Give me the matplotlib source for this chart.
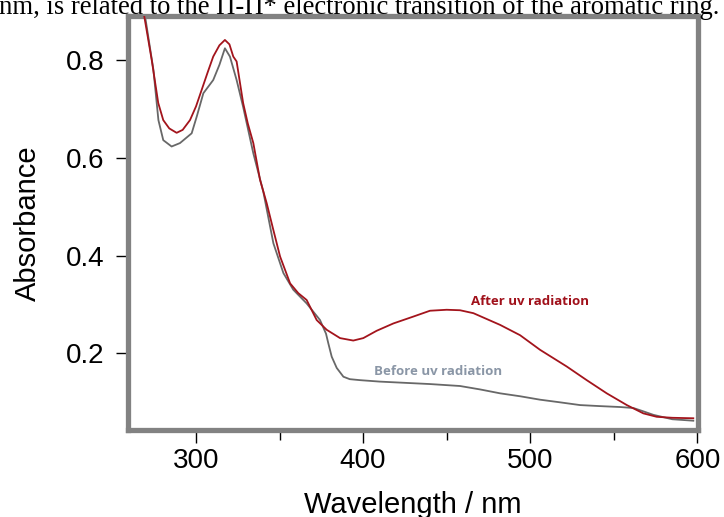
import matplotlib
matplotlib.use("Agg")
import matplotlib.pyplot as plt

# ---- data ----
after_wl = [269.0, 270.5, 273.5, 277.4, 280.4, 284.0, 288.4, 292.0, 296.4, 300.0, 303.4, 307.0,
            310.3, 314.0, 317.3, 320.0, 322.3, 324.3, 326.0, 328.2, 331.0, 334.3, 338.3, 342.3,
            346.3, 350.3, 356.3, 361.2, 366.2, 372.2, 378.2, 386.2, 394.1, 400.1, 408.1, 418.1,
            430.0, 440.0, 450.0, 458.0, 466.0, 474.0, 482.0, 493.9, 505.9, 521.8, 533.8, 545.8,
            557.8, 567.7, 575.7, 585.0, 597.6]
after_abs = [0.89, 0.86, 0.800, 0.712, 0.677, 0.660, 0.651, 0.657, 0.677, 0.705, 0.739, 0.775,
             0.807, 0.830, 0.841, 0.832, 0.807, 0.797, 0.760, 0.712, 0.670, 0.630, 0.555, 0.507,
             0.452, 0.398, 0.343, 0.323, 0.309, 0.268, 0.248, 0.231, 0.226, 0.231, 0.246, 0.261,
             0.275, 0.287, 0.289, 0.288, 0.282, 0.270, 0.258, 0.237, 0.207, 0.173, 0.145, 0.118,
             0.094, 0.077, 0.070, 0.068, 0.067]

before_wl = [269.5, 270.5, 274.5, 277.5, 280.4, 285.4, 290.4, 297.4, 300.5, 304.4, 310.3, 314.0,
             317.3, 320.3, 324.3, 328.2, 334.3, 340.3, 346.3, 352.3, 358.2, 366.2, 374.2, 377.8,
             379.2, 381.2, 384.2, 388.2, 392.0, 398.1, 410.0, 422.0, 440.0, 458.0, 470.0, 482.0,
             494.0, 505.9, 517.0, 529.8, 541.0, 553.8, 561.7, 567.0, 573.7, 585.0, 597.6]
before_abs = [0.89, 0.868, 0.780, 0.677, 0.636, 0.623, 0.630, 0.650, 0.685, 0.732, 0.759, 0.790,
              0.824, 0.807, 0.759, 0.704, 0.609, 0.530, 0.425, 0.364, 0.330, 0.302, 0.268, 0.240,
              0.220, 0.193, 0.170, 0.152, 0.147, 0.145, 0.142, 0.140, 0.137, 0.133, 0.126, 0.118,
              0.112, 0.105, 0.100, 0.094, 0.092, 0.090, 0.088, 0.082, 0.074, 0.065, 0.062]

x_ticks = [300, 400, 500, 600]
x_minor = [350, 450, 550]
y_ticks = [0.2, 0.4, 0.6, 0.8]
y_ticklabels = ["0.2", "0.4", "0.6", "0.8"]

label_after = "After uv radiation"
label_before = "Before uv radiation"
caption = "nm, is related to the \u03a0-\u03a0* electronic transition of the aromatic ring."

# ---- figure ----
W, H = 724, 517
fig = plt.figure(figsize=(W / 100, H / 100), dpi=100)
ax = fig.add_axes([128 / W, 1 - 430 / H, (698 - 128) / W, (430 - 16) / H])

red = "#a3141c"
gray = "#686868"

ax.plot(before_wl, before_abs, color=gray, lw=1.3, zorder=2)
ax.plot(after_wl, after_abs, color=red, lw=1.3, zorder=3)

ax.set_xlim(259.3, 600.4)
ax.set_ylim(0.043, 0.89)

ax.set_xticks(x_ticks)
ax.set_xticks(x_minor, minor=True)
ax.set_yticks(y_ticks)
ax.set_yticklabels(y_ticklabels)

font = "Liberation Sans"
for lab in ax.get_xticklabels() + ax.get_yticklabels():
    lab.set_fontfamily(font)
    lab.set_fontsize(20)

ax.tick_params(axis="both", which="major", direction="out", length=9, width=1,
               color="black")
ax.tick_params(axis="x", which="major", pad=4)
ax.tick_params(axis="y", which="major", pad=8)
ax.tick_params(axis="x", which="minor", direction="out", length=7, width=1, color="black")

for s in ax.spines.values():
    s.set_color("#828282")
    s.set_linewidth(3.8)

ax.set_xlabel("Wavelength / nm", fontfamily=font, fontsize=21, labelpad=12)
ax.set_ylabel("Absorbance", fontfamily=font, fontsize=21, labelpad=17)

ax.text(464.6, 0.305, label_after, color="#a0101a", fontsize=9.5, fontweight="bold",
        fontfamily="Open Sans", ha="left", va="center")
ax.text(406.5, 0.162, label_before, color="#8a96a6", fontsize=9.5, fontweight="bold",
        fontfamily="Open Sans", ha="left", va="center")

fig.text(-0.002, 1 - 14 / H, caption, fontfamily="Liberation Serif", fontsize=19.2,
         ha="left", va="baseline")

fig.savefig("out.png", dpi=100)
